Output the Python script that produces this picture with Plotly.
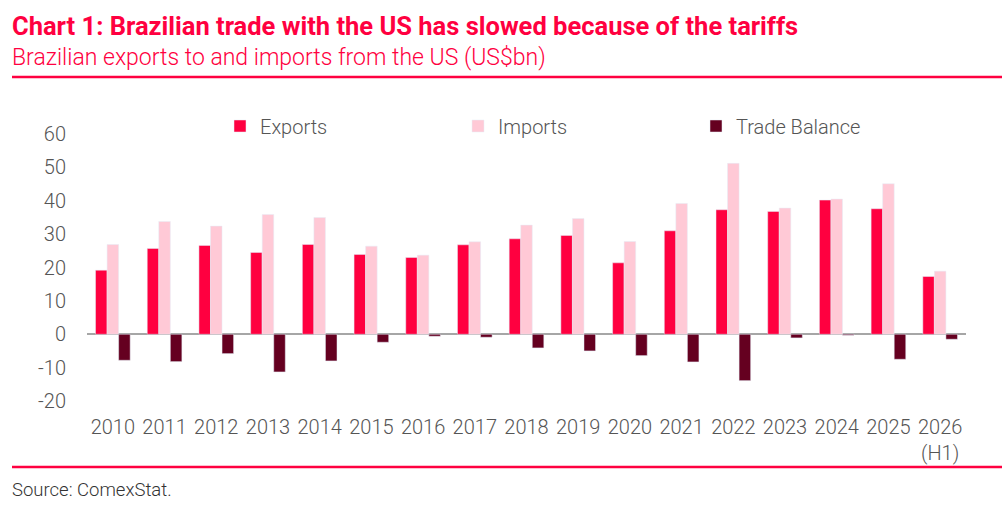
import plotly.graph_objects as go

years = ["2010", "2011", "2012", "2013", "2014", "2015", "2016", "2017", "2018",
         "2019", "2020", "2021", "2022", "2023", "2024", "2025", "2026<br>(H1)"]
exports = [19.2, 25.7, 26.6, 24.5, 26.9, 23.9, 23.0, 26.8, 28.6,
           29.6, 21.4, 31.0, 37.3, 36.8, 40.2, 37.6, 17.3]
imports = [26.9, 33.8, 32.4, 35.9, 35.0, 26.4, 23.7, 27.7, 32.7,
           34.7, 27.8, 39.2, 51.2, 37.8, 40.5, 45.1, 18.9]
balance = [-7.8, -8.2, -5.8, -11.3, -8.0, -2.4, -0.6, -0.9, -4.1,
           -5.0, -6.4, -8.3, -13.9, -1.1, -0.3, -7.5, -1.5]
y_tickvals = [-20, -10, 0, 10, 20, 30, 40, 50, 60]
y_ticktext = ["-20", "-10", "0", "10", "20", "30", "40", "50", "60"]

RED = "#FF0040"
PINK = "#FFC9D6"
MAROON = "#650020"
TXT = "#555555"

W, H = 1002, 505
ML, MR, MT, MB = 87, 36, 134, 104
PW, PH = W - ML - MR, H - MT - MB


def px_x(x):
    return (x - ML) / PW


def px_y(y):
    return (H - MB - y) / PH


fig = go.Figure()
fig.add_trace(go.Bar(name="Exports", x=years, y=exports, marker_color=RED))
fig.add_trace(go.Bar(name="Imports", x=years, y=imports, marker_color=PINK))
fig.add_trace(go.Bar(name="Trade Balance", x=years, y=balance, marker_color=MAROON))

tickfont = dict(size=20, color=TXT, family="Roboto", weight=300)

fig.update_layout(
    width=W, height=H,
    margin=dict(l=ML, r=MR, t=MT, b=MB, autoexpand=False),
    paper_bgcolor="white", plot_bgcolor="white",
    barmode="group", bargap=0.33, bargroupgap=0,
    font=dict(family="Roboto", size=20, color=TXT),
    showlegend=True,
    hovermode=False,
    legend=dict(orientation="h", x=220 / W, xref="container", y=px_y(126), yanchor="middle",
                xanchor="left", entrywidth=193, entrywidthmode="pixels",
                font=tickfont, bgcolor="rgba(0,0,0,0)"),
    xaxis=dict(showgrid=False, showline=False, ticks="", tickfont=tickfont,
               tickangle=0, automargin=False, ticklabelstandoff=12),
    yaxis=dict(range=[-20, 60], tickvals=y_tickvals, ticktext=y_ticktext,
               showgrid=False, zeroline=True,
               zerolinecolor="#A6A6A6", zerolinewidth=2, showline=False, automargin=False,
               tickfont=tickfont, ticklabelstandoff=20),
)

texts = [
    ("<b>Chart 1: Brazilian trade with the US has slowed because of the tariffs</b>", 26,
     dict(size=25.5, color=RED, family="Roboto")),
    ("Brazilian exports to and imports from the US (US$bn)", 58,
     dict(size=23, color=RED, family="Roboto", weight=300)),
    ("Source: ComexStat.", 490, dict(size=18.5, color="#333333", family="Roboto", weight=300)),
]
for t, yp, f in texts:
    fig.add_annotation(text=t, xref="paper", yref="paper", x=px_x(10), y=px_y(yp),
                       showarrow=False, xanchor="left", yanchor="middle", font=f)

for yp in [77, 467]:
    fig.add_shape(type="line", xref="paper", yref="paper",
                  x0=px_x(12), x1=px_x(W),
                  y0=px_y(yp), y1=px_y(yp),
                  line=dict(color=RED, width=2.5))

fig.write_html("out.html")
